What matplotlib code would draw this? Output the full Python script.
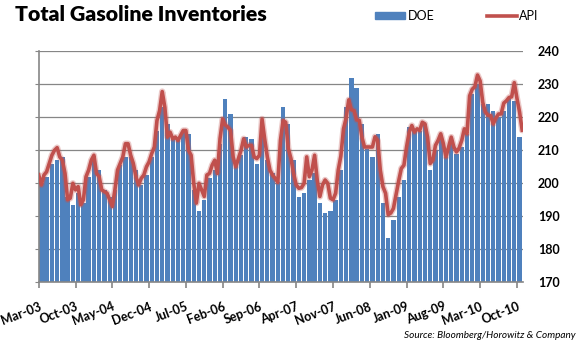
import matplotlib
matplotlib.use("Agg")
import matplotlib.pyplot as plt
import numpy as np
from matplotlib.lines import Line2D
from matplotlib.patches import Patch

plt.rcParams['font.family'] = ['Lato', 'DejaVu Sans']

# month labels on the category axis (one every 7 months, starting Mar-03)
tick_labels = ['Mar-03', 'Oct-03', 'May-04', 'Dec-04', 'Jul-05', 'Feb-06', 'Sep-06',
               'Apr-07', 'Nov-07', 'Jun-08', 'Jan-09', 'Aug-09', 'Mar-10', 'Oct-10']

# DOE gasoline stocks, one value per month (million bbl), Mar-03 .. Oct-10
doe = [200, 202, 206, 207, 208, 196, 193.5, 197, 194, 202,
       208, 204, 198, 196, 198, 205.5, 208, 208, 204, 199.5,
       202.5, 208, 216, 223, 218, 214, 213, 216, 215, 198,
       191.5, 195, 201.5, 204, 212, 225.5, 221, 206, 208.5, 214,
       213.5, 206, 215, 207, 203, 200.5, 223, 218, 207, 196,
       197, 201, 203, 194, 191, 191.5, 195, 204, 223, 232,
       229, 218, 210.5, 208, 215, 194, 183.5, 189, 196, 201,
       217, 216, 216, 218, 204, 210, 214, 208, 212, 209,
       211, 215, 227, 230, 224, 224, 222, 220, 222, 225.5,
       225, 214]

# API gasoline stocks, twice a month, Mar-03 .. Nov-10
api = [202.5, 199.5, 202.5, 203.5, 206, 208.5, 210, 210.8, 208, 207,
       203, 195, 195.5, 200, 198, 199, 193.5, 195, 202, 204,
       207, 208.5, 203, 202, 198, 197.5, 197, 195, 193, 198,
       204, 206, 208, 212, 212, 208.5, 206, 202, 199.5, 201.5,
       202.5, 205, 206.5, 209, 211, 219, 222, 227.8, 223, 214,
       215.5, 213.5, 214, 213, 214.5, 216, 216, 210, 208.5, 200,
       194, 200, 198, 196, 202.5, 203, 205.5, 207, 203, 213.5,
       219.5, 217.7, 217, 216, 208, 205, 207.5, 210, 213.5, 211,
       211.5, 211.5, 208, 207.5, 208.5, 219.5, 213.4, 208, 204, 202.5,
       201.5, 200.3, 213, 219, 218.5, 210.5, 207.5, 203, 199.5, 198.5,
       198.7, 200, 208, 202, 204, 208.5, 201, 196, 199.5, 201,
       200, 195.5, 195, 197, 204, 208.3, 216.5, 219.8, 225.3, 222.3,
       222, 219.2, 219.1, 214, 211, 211, 211, 211, 214.1, 213,
       204, 199, 197, 190.5, 191, 192.4, 196.5, 200.7, 204.5, 205.5,
       211, 215.5, 217.5, 215.5, 216.5, 216, 218.5, 218, 214, 206,
       207, 211.5, 213, 215, 212, 208, 211, 214, 211, 209.5,
       210.7, 213, 216.5, 215, 226.5, 228.5, 229.3, 232.8, 231, 224.5,
       221.6, 220.6, 220.5, 218, 219.8, 221, 221, 224.3, 225, 226,
       226.2, 230.5, 225.8, 221.6, 216.1]

blue = '#4F81BD'
red = '#C0504D'
grey = '#868686'

fig = plt.figure(figsize=(5.85, 3.45), dpi=100)
ax = fig.add_axes([0.0662, 0.1817, 0.8273, 0.6696])

x_doe = np.arange(len(doe)) + 0.5
x_api = np.arange(len(api)) * 0.5

ax.bar(x_doe, doe, width=0.82, color=blue, zorder=2)
# soft halo under the API line, then the line itself
ax.plot(x_api, api, color=red, lw=4.6, alpha=0.3, solid_capstyle='round', zorder=3)
ax.plot(x_api, api, color=red, lw=2.6, solid_joinstyle='round', zorder=4)

ax.set_ylim(170, 240)
ax.set_xlim(0, 92.1)
ax.set_yticks(np.arange(170, 241, 10))
ax.set_xticks(np.arange(len(tick_labels)) * 7)
ax.set_xticklabels(tick_labels, rotation=21, ha='right', rotation_mode='anchor')

ax.grid(axis='y', color=grey, lw=0.9, zorder=1)
for side in ['top', 'right']:
    ax.spines[side].set_visible(False)
for side in ['left', 'bottom']:
    ax.spines[side].set_color(grey)
    ax.spines[side].set_linewidth(1.2)

ax.tick_params(axis='y', left=True, right=False, labelleft=False, labelright=True,
               length=3, color=grey, pad=8, labelsize=9)
ax.tick_params(axis='x', length=4, color=grey, width=1.2, pad=9, labelsize=9)
for lbl in ax.get_xticklabels() + ax.get_yticklabels():
    lbl.set_fontweight('bold')

fig.text(15 / 585, (345 - 21) / 345, 'Total Gasoline Inventories', fontsize=15.3,
         fontweight='heavy', ha='left', va='baseline')

handles = [Patch(color=blue), Line2D([], [], color=red, lw=2.6)]
fig.legend(handles, ['DOE', 'API'], ncol=2, loc='center left',
           bbox_to_anchor=(375 / 585, (345 - 16) / 345), frameon=False,
           handlelength=2.4, handleheight=0.55, handletextpad=0.2,
           columnspacing=4.2, fontsize=9, borderpad=0, borderaxespad=0)

fig.text(575 / 585, 7 / 345, 'Source: Bloomberg/Horowitz & Company', fontsize=7.2,
         style='italic', ha='right', va='baseline')

fig.savefig('out.png', dpi=100)
